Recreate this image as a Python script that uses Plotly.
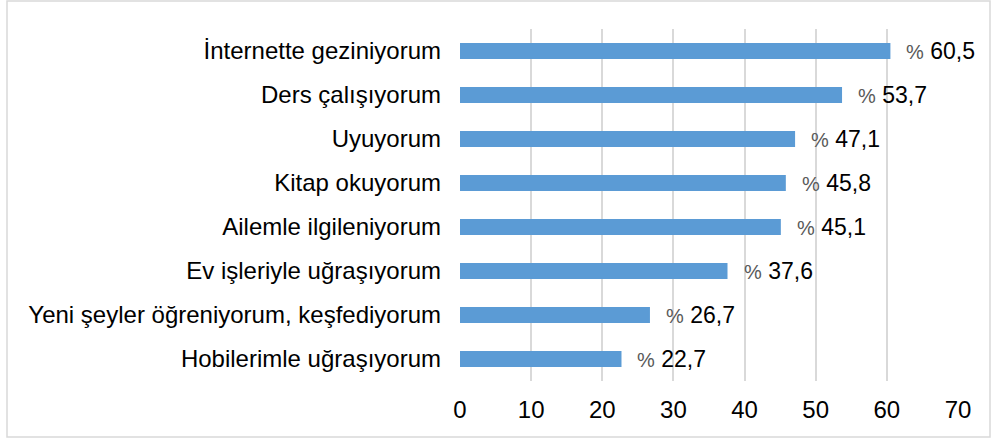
import plotly.graph_objects as go

categories = ["İnternette geziniyorum", "Ders çalışıyorum", "Uyuyorum", "Kitap okuyorum",
              "Ailemle ilgileniyorum", "Ev işleriyle uğraşıyorum",
              "Yeni şeyler öğreniyorum, keşfediyorum", "Hobilerimle uğraşıyorum"]
values = [60.5, 53.7, 47.1, 45.8, 45.1, 37.6, 26.7, 22.7]
tick_vals = [0, 10, 20, 30, 40, 50, 60, 70]

FONT = "Liberation Sans, Arial, sans-serif"

fig = go.Figure()
fig.add_trace(go.Bar(
    x=values, y=categories, orientation="h",
    marker=dict(color="#5B9BD5", line=dict(width=0)),
    width=0.36, hoverinfo="skip",
))

for c, v in zip(categories, values):
    label = "<span style='font-size:20px;color:#595959'>%</span> " + f"{v:.1f}".replace(".", ",")
    fig.add_annotation(x=v, y=c, xref="x", yref="y", text=label, showarrow=False,
                       xanchor="left", yanchor="middle", xshift=14,
                       font=dict(family=FONT, size=23, color="#000000"))

W, H = 992, 441
L, R, T, B = 460, 958, 29, 381
pw, ph = R - L, B - T
fig.add_shape(type="rect", xref="paper", yref="paper",
              x0=(7 - L) / pw, x1=(990 - L) / pw,
              y0=(B - 437) / ph, y1=(B - 1) / ph,
              line=dict(color="#D9D9D9", width=1.5), fillcolor="rgba(0,0,0,0)", layer="below")

fig.update_layout(
    width=W, height=H,
    margin=dict(l=L, r=W - R, t=T, b=H - B, pad=0),
    paper_bgcolor="white", plot_bgcolor="white",
    showlegend=False,
    font=dict(family=FONT, size=24, color="#000000"),
)
fig.update_xaxes(range=[0, 70], tickvals=tick_vals, showgrid=True, gridcolor="#D9D9D9",
                 gridwidth=1.5, zeroline=False, showline=False, ticks="",
                 ticklabelstandoff=12, tickfont=dict(size=24))
fig.update_yaxes(autorange="reversed", showgrid=False, showline=False, ticks="",
                 ticklabelstandoff=18, tickfont=dict(size=24))

fig.write_html("out.html", config={"displayModeBar": False},
               post_script="document.body.style.margin='0px';document.body.style.padding='0px';")
